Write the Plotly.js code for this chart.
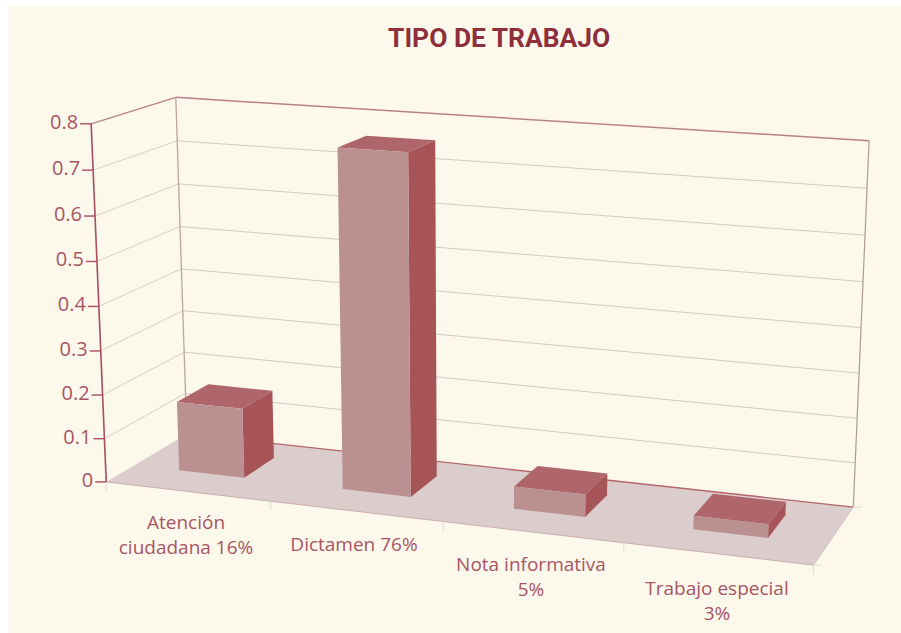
<!DOCTYPE html>
<html><head><meta charset="utf-8">
<script src="https://cdn.plot.ly/plotly-3.0.1.min.js"></script>
<style>html,body{margin:0;padding:0;background:#fff}#c{width:901px;height:633px}</style></head>
<body><div id="c"></div><script>
const categories = ["Atención<br>ciudadana 16%","Dictamen 76%","Nota informativa<br>5%","Trabajo especial<br>3%"];
const values = [0.16,0.76,0.05,0.03];
const tickValues = [0,0.1,0.2,0.3,0.4,0.5,0.6,0.7,0.8];
const tickLabels = ["0","0.1","0.2","0.3","0.4","0.5","0.6","0.7","0.8"];
const titleText = "TIPO DE TRABAJO";

// Screen positions of the corners of the chart box: [category pos, depth, value, px, py]
const n = categories.length, vMax = 0.8;
const corners = [[0,0,0,106,479],[n,0,0,814,567],[0,1,0,187,437],[n,1,0,853,505],
                 [0,0,vMax,91,125],[0,1,vMax,176,96],[n,1,vMax,869,141]];
function solve(A,b){const m=A.length;const M=A.map((r,i)=>[...r,b[i]]);
  for(let i=0;i<m;i++){let p=i;for(let k=i+1;k<m;k++)if(Math.abs(M[k][i])>Math.abs(M[p][i]))p=k;
    [M[i],M[p]]=[M[p],M[i]];
    for(let k=0;k<m;k++)if(k!==i){const f=M[k][i]/M[i][i];for(let j=i;j<=m;j++)M[k][j]-=f*M[i][j];}}
  return M.map((r,i)=>r[m]/r[i]);}
const rows=[],rhs=[];
corners.forEach(([u,d,v,x,y])=>{
  rows.push([u,d,v,1,0,0,0,0,-x*u,-x*d,-x*v]);rhs.push(x);
  rows.push([0,0,0,0,u,d,v,1,-y*u,-y*d,-y*v]);rhs.push(y);});
const AtA=Array.from({length:11},(_,i)=>Array.from({length:11},(_,j)=>rows.reduce((s,r)=>s+r[i]*r[j],0)));
const Atb=Array.from({length:11},(_,i)=>rows.reduce((s,r,k)=>s+r[i]*rhs[k],0));
const P=solve(AtA,Atb);
function pr(u,d,v){const w=P[8]*u+P[9]*d+P[10]*v+1;
  return [(P[0]*u+P[1]*d+P[2]*v+P[3])/w,(P[4]*u+P[5]*d+P[6]*v+P[7])/w];}

const traces=[];
function poly(pts,fill,line,lw){const q=pts.map(p=>pr(...p));q.push(q[0]);
  traces.push({type:'scatter',mode:line?'lines':'none',x:q.map(a=>a[0]),y:q.map(a=>a[1]),fill:'toself',fillcolor:fill,
    line:{color:line||fill,width:lw||0},hoverinfo:'skip',showlegend:false});}
function raw(p,q,color,w){traces.push({type:'scatter',mode:'lines',x:[p[0],q[0]],y:[p[1],q[1]],line:{color,width:w},hoverinfo:'skip',showlegend:false});}
function seg(a,b,color,w){raw(pr(...a),pr(...b),color,w);}

// floor
poly([[0,0,0],[n,0,0],[n,1,0],[0,1,0]],'#dccdcd');
// gridlines
tickValues.forEach(v=>{ if(v>0&&v<vMax){seg([0,0,v],[0,1,v],'#d6d0c6',1);seg([0,1,v],[n,1,v],'#d2cbc1',1);} });
seg([0,1,0],[n,1,0],'#b4666c',1.3);
seg([0,1,vMax],[0,1,0],'#bfa3a3',1.3);
seg([n,1,vMax],[n,1,0],'#b09a98',1.2);
seg([0,1,vMax],[n,1,vMax],'#b98089',1.5);
seg([0,0,vMax],[0,1,vMax],'#b98089',1.3);
seg([0,0,0],[n,0,0],'#cbaeae',1);
seg([n,0,0],[n,1,0],'#d3c2c2',1);
// value axis
seg([0,0,0],[0,0,vMax],'#a9505c',1.6);
// category ticks
for(let i=0;i<=n;i++){const p=pr(i,0,0);raw(p,[p[0],p[1]+9],'#e2dace',1);}
{const p=pr(n,1,0);raw(p,[p[0]+9,p[1]],'#e2dace',1);const q=pr(n,0,0);raw(q,[q[0]+8,q[1]],'#e2dace',1);}
// bars
const insetL=0.282,insetR=0.315,d0=0.335,d1=0.735;
values.forEach((val,i)=>{const a=i+insetL,b=i+1-insetR;
  poly([[a,d0,val],[b,d0,val],[b,d1,val],[a,d1,val]],'#ae666b');
  poly([[b,d0,0],[b,d1,0],[b,d1,val],[b,d0,val]],'#a75459');
  poly([[a,d0,0],[b,d0,0],[b,d0,val],[a,d0,val]],'#bb9091');
});
// tick marks + labels
const tp=tickValues.map(v=>pr(0,0,v));
tp.forEach(p=>raw([p[0]-11,p[1]],p,'#a9505c',1.4));
traces.push({type:'scatter',mode:'text',x:tp.map(p=>p[0]-13),y:tp.map(p=>p[1]),text:tickLabels,textposition:'middle left',
  textfont:{family:'Open Sans, sans-serif',size:20,color:'#a85563'},hoverinfo:'skip',showlegend:false});
// category labels
const labelPos=[[186,537],[354,546],[531,579],[717,603]];
traces.push({type:'scatter',mode:'text',x:labelPos.map(p=>p[0]),y:labelPos.map(p=>p[1]),text:categories,textposition:'middle center',
  textfont:{family:'Open Sans, sans-serif',size:19,color:'#a85563'},hoverinfo:'skip',showlegend:false});

Plotly.newPlot('c',traces,{
  width:901,height:633,margin:{l:0,r:0,t:0,b:0},paper_bgcolor:'#ffffff',plot_bgcolor:'rgba(0,0,0,0)',showlegend:false,
  title:{text:titleText,x:0.554,xanchor:'center',y:0.94,yanchor:'middle',font:{family:'Roboto, sans-serif',size:26.4,color:'#8f2f3c',weight:700}},
  xaxis:{range:[0,901],visible:false,fixedrange:true},
  yaxis:{range:[633,0],visible:false,fixedrange:true},
  shapes:[{type:'rect',layer:'below',xref:'paper',yref:'paper',x0:8/901,x1:1,y0:0,y1:1-6/633,fillcolor:'#fcf8ec',line:{width:0}}]
},{displayModeBar:false,staticPlot:true});
</script></body></html>
